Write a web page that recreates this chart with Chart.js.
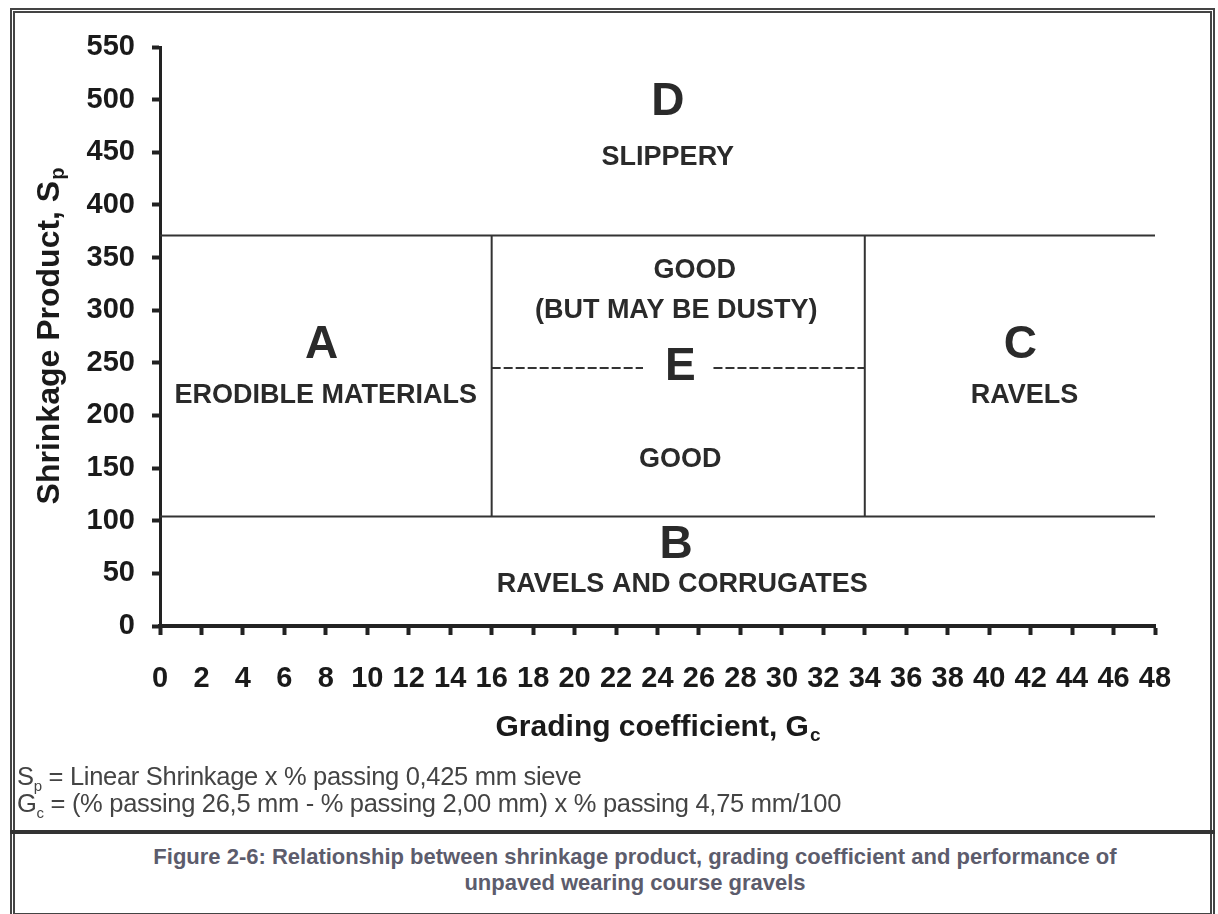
<!DOCTYPE html>
<html>
<head>
<meta charset="utf-8">
<script src="https://cdn.jsdelivr.net/npm/chart.js@4.4.1/dist/chart.umd.min.js"></script>
<style>
  body { margin: 0; background: #fff; width: 1218px; height: 914px; overflow: hidden; position: relative; font-family: "Liberation Sans", Arial, sans-serif; }
  #frame { position: absolute; left: 10px; top: 8px; width: 1195px; height: 900px; border: 5px double #444; }
  #sep { position: absolute; left: 10px; top: 830px; width: 1205px; border-top: 4px solid #333; }
  #chart { position: absolute; left: 0; top: 0; }
  .note { position: absolute; left: 17px; font-size: 25.5px; color: #444; white-space: nowrap; letter-spacing: -0.3px; }
  .note sub { font-size: 15px; }
  .caption { position: absolute; left: 26px; width: 1218px; text-align: center; font-size: 22px; font-weight: bold; color: #5c5c6c; }
</style>
</head>
<body>
<div id="frame"></div>
<div id="sep"></div>
<canvas id="chart" width="1218" height="770"></canvas>
<div class="note" style="top:762px">S<sub>p</sub> = Linear Shrinkage x % passing 0,425 mm sieve</div>
<div class="note" style="top:789px">G<sub>c</sub> = (% passing 26,5 mm - % passing 2,00 mm) x % passing 4,75 mm/100</div>
<div class="caption" style="top:844px">Figure 2-6: Relationship between shrinkage product, grading coefficient and performance of</div>
<div class="caption" style="top:870px">unpaved wearing course gravels</div>

<script>
// Axis ranges
const xMin = 0, xMax = 48, xStep = 2;
const yMin = 0, yMax = 550, yStep = 50;

// Zone boundaries (Gc, Sp)
const upperBoundary = [{ x: 0, y: 371 }, { x: 48, y: 371 }];
const lowerBoundary = [{ x: 0, y: 104 }, { x: 48, y: 104 }];
const leftDivider = [{ x: 16, y: 104 }, { x: 16, y: 371 }];
const rightDivider = [{ x: 34, y: 104 }, { x: 34, y: 371 }];
const dustyLeft = [{ x: 16, y: 245 }, { x: 23.3, y: 245 }];
const dustyRight = [{ x: 26.7, y: 245 }, { x: 34, y: 245 }];

// Zone labels
const zoneLetters = ['D', 'A', 'E', 'C', 'B'];
const zoneLetterX = [24.5, 7.8, 25.1, 41.5, 24.9];
const zoneLetterY = [497, 267, 246, 267, 77];
const zoneNotes = ['SLIPPERY', 'ERODIBLE MATERIALS', 'GOOD', '(BUT MAY BE DUSTY)', 'GOOD', 'RAVELS', 'RAVELS AND CORRUGATES'];
const zoneNoteX = [24.5, 8.0, 25.8, 24.9, 25.1, 41.7, 25.2];
const zoneNoteY = [445, 219, 338, 300, 158, 219, 39];

const FONT = '"Liberation Sans", Arial, sans-serif';

function line(data, dash) {
  return {
    data: data,
    showLine: true,
    borderColor: '#333',
    borderWidth: 2,
    borderDash: dash || [],
    pointRadius: 0,
    fill: false
  };
}

// Zone letters and descriptions
const zoneLabels = {
  id: 'zoneLabels',
  afterDatasetsDraw(chart) {
    const ctx = chart.ctx;
    const sx = chart.scales.x, sy = chart.scales.y;
    ctx.save();
    ctx.textAlign = 'center';
    ctx.textBaseline = 'middle';
    ctx.fillStyle = '#2a2a2a';
    ctx.font = 'bold 46px ' + FONT;
    zoneLetters.forEach((t, i) => {
      ctx.fillText(t, sx.getPixelForValue(zoneLetterX[i]), sy.getPixelForValue(zoneLetterY[i]));
    });
    ctx.font = 'bold 27px ' + FONT;
    zoneNotes.forEach((t, i) => {
      ctx.fillText(t, sx.getPixelForValue(zoneNoteX[i]), sy.getPixelForValue(zoneNoteY[i]));
    });
    ctx.restore();
  }
};

// Axis titles with subscripts
function drawSubText(ctx, main, sub, cx, cy, size) {
  const subSize = Math.round(size * 0.62);
  ctx.font = 'bold ' + size + 'px ' + FONT;
  const wm = ctx.measureText(main).width;
  ctx.font = 'bold ' + subSize + 'px ' + FONT;
  const ws = ctx.measureText(sub).width;
  const x0 = cx - (wm + ws) / 2;
  ctx.textAlign = 'left';
  ctx.textBaseline = 'middle';
  ctx.font = 'bold ' + size + 'px ' + FONT;
  ctx.fillText(main, x0, cy);
  ctx.font = 'bold ' + subSize + 'px ' + FONT;
  ctx.fillText(sub, x0 + wm + 1, cy + size * 0.26);
}

const axisTitles = {
  id: 'axisTitles',
  afterDraw(chart) {
    const ctx = chart.ctx;
    const a = chart.chartArea;
    ctx.save();
    ctx.fillStyle = '#1a1a1a';
    drawSubText(ctx, 'Grading coefficient, G', 'c', (a.left + a.right) / 2, 728, 30);
    ctx.translate(50, (a.top + a.bottom) / 2);
    ctx.rotate(-Math.PI / 2);
    drawSubText(ctx, 'Shrinkage Product, S', 'p', 0, 0, 32);
    ctx.restore();
  }
};

new Chart(document.getElementById('chart'), {
  type: 'scatter',
  data: {
    datasets: [
      line(upperBoundary),
      line(lowerBoundary),
      line(leftDivider),
      line(rightDivider),
      line(dustyLeft, [9, 3]),
      line(dustyRight, [9, 3])
    ]
  },
  options: {
    responsive: false,
    animation: false,
    layout: { padding: { left: 0, right: 63, top: 47, bottom: 0 } },
    plugins: {
      legend: { display: false },
      tooltip: { enabled: false }
    },
    scales: {
      x: {
        type: 'linear',
        min: xMin,
        max: xMax,
        afterFit(scale) { scale.height = 144; },
        ticks: {
          stepSize: xStep,
          color: '#1a1a1a',
          padding: 27,
          maxRotation: 0,
          autoSkip: false,
          font: { family: FONT, size: 29, weight: 'bold' }
        },
        grid: { drawOnChartArea: false, drawTicks: true, tickLength: 9, tickWidth: 4, tickColor: '#222' },
        border: { display: true, width: 4, color: '#222' }
      },
      y: {
        type: 'linear',
        min: yMin,
        max: yMax,
        afterFit(scale) { scale.width = 160; },
        ticks: {
          stepSize: yStep,
          color: '#1a1a1a',
          padding: 17,
          font: { family: FONT, size: 29, weight: 'bold' }
        },
        grid: { drawOnChartArea: false, drawTicks: true, tickLength: 8, tickWidth: 4, tickColor: '#222' },
        border: { display: true, width: 3, color: '#222' }
      }
    }
  },
  plugins: [zoneLabels, axisTitles]
});
</script>
</body>
</html>
